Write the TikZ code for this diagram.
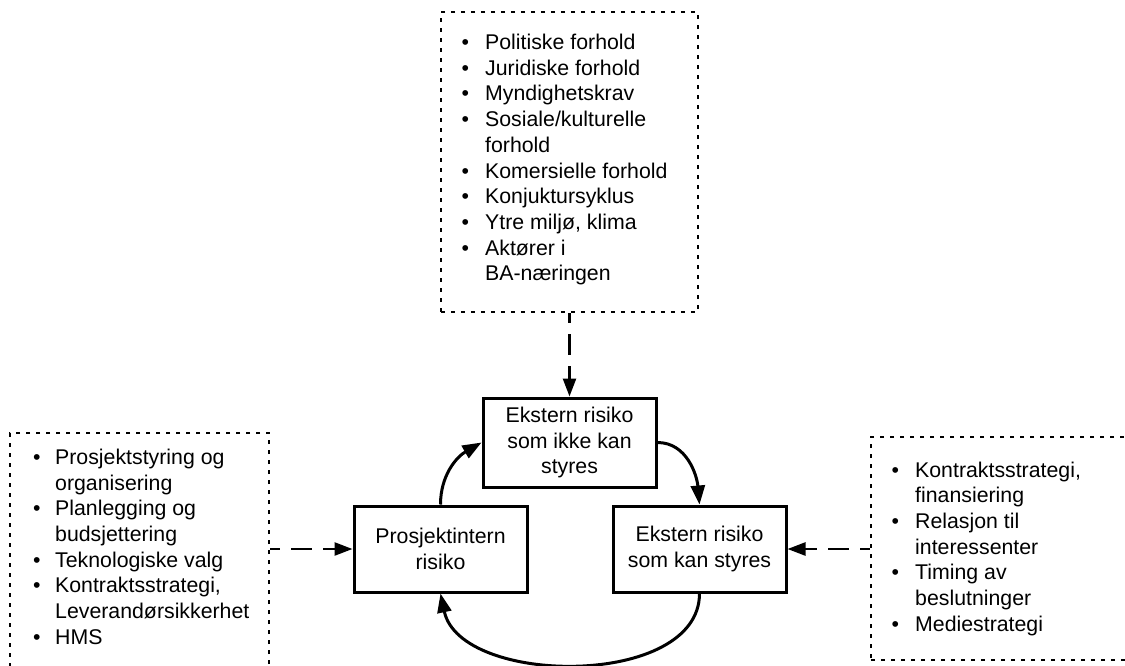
\documentclass[tikz,border=0pt]{standalone}
\usepackage{fontspec}
\setmainfont{Liberation Sans}
\usetikzlibrary{arrows.meta}

% bullet list helpers: \li starts an item, \ct continues it on the next line
\newlength\bulw
\newcommand\li[1]{\makebox[\bulw][l]{\textbullet}#1}
\newcommand\ct[1]{\hspace*{\bulw}#1}

\tikzset{
  txt/.style={font=\fontsize{21.3}{25.7}\selectfont},
  riskbox/.style={txt, draw, line width=3pt, minimum width=173pt,
    minimum height=86pt, align=center, inner sep=0pt},
  factorbox/.style={draw, line width=2.2pt, dash pattern=on 4pt off 6pt,
    inner sep=0pt},
  factorlist/.style={txt, anchor=base west, inner sep=0pt},
  influence/.style={line width=2.5pt, dash pattern=on 21pt off 11pt,
    dash phase=11pt, -{Triangle[length=18pt,width=13pt]}},
  cycle/.style={line width=3pt, -{Triangle[length=19pt,width=14pt]}},
}

\begin{document}
\begin{tikzpicture}[x=1pt,y=1pt]
\useasboundingbox (0,0) rectangle (1125,-665);
\clip (0,0) rectangle (1125,-665);

% the three risk categories
\node[riskbox, minimum height=89pt] (top) at (569.5,-442.5)
  {Ekstern risiko\\som ikke kan\\styres};
\node[riskbox] (left) at (440.5,-549) {Prosjektintern\\risiko};
\node[riskbox] (right) at (699.5,-549) {Ekstern risiko\\som kan styres};

% factor boxes
\node[factorbox, minimum width=257pt, minimum height=300pt] (topdot)
  at (569.5,-162) {};
\node[factorbox, minimum width=259pt, minimum height=242pt] (leftdot)
  at (139.5,-554) {};
\node[factorbox, minimum width=260pt, minimum height=223pt] (rightdot)
  at (1001,-548.5) {};

\node[factorlist] (toplist) at (461.3,-49.5) {%
\begin{minipage}[t]{235pt}\setlength\bulw{23.7pt}%
\li{Politiske forhold}\\
\li{Juridiske forhold}\\
\li{Myndighetskrav}\\
\li{Sosiale/kulturelle}\\
\ct{forhold}\\
\li{Komersielle forhold}\\
\li{Konjuktursyklus}\\
\li{Ytre miljø, klima}\\
\li{Aktører i}\\
\ct{BA-næringen}
\end{minipage}};

\node[factorlist] (leftlist) at (33,-464.3) {%
\begin{minipage}[t]{235pt}\setlength\bulw{22pt}%
\li{Prosjektstyring og}\\
\ct{organisering}\\
\li{Planlegging og}\\
\ct{budsjettering}\\
\li{Teknologiske valg}\\
\li{Kontraktsstrategi,}\\
\ct{Leverandørsikkerhet}\\
\li{HMS}
\end{minipage}};

\node[factorlist] (rightlist) at (891.3,-477) {%
\begin{minipage}[t]{230pt}\setlength\bulw{23.7pt}%
\li{Kontraktsstrategi,}\\
\ct{finansiering}\\
\li{Relasjon til}\\
\ct{interessenter}\\
\li{Timing av}\\
\ct{beslutninger}\\
\li{Mediestrategi}
\end{minipage}};

% influences from the factor boxes
\draw[influence] (topdot.south) -- (top.north);
\draw[influence] (leftdot.east |- left.west) -- (left.west);
\draw[influence] (rightdot.west |- right.east) -- (right.east);

% the risk cycle
\draw[cycle] (left.north) to[out=90,in=210] (top.west);
\draw[cycle] (top.east) to[out=0,in=95] (right.north);
\draw[cycle] (right.south) to[out=-90,in=-78,distance=95pt] (left.south);
\end{tikzpicture}
\end{document}
